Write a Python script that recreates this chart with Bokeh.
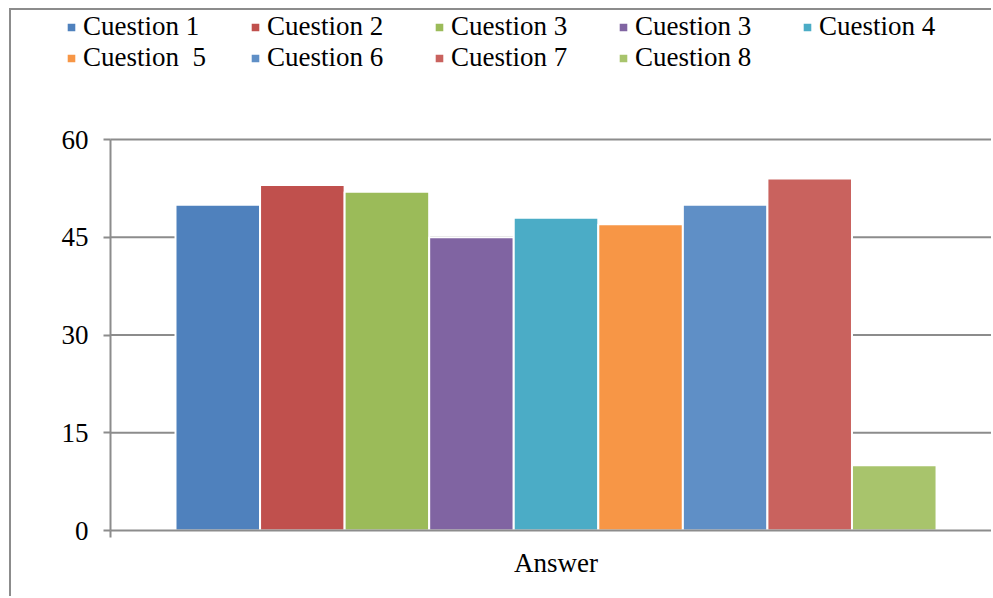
from bokeh.plotting import figure
from bokeh.models import (ColumnDataSource, Range1d, FixedTicker, Legend, LegendItem)
from bokeh.embed import file_html
from bokeh.resources import INLINE

# ---- data ----
labels = ["Cuestion 1", "Cuestion 2", "Cuestion 3", "Cuestion 3", "Cuestion 4",
          "Cuestion \u00a05", "Cuestion 6", "Cuestion 7", "Cuestion 8"]
values = [50, 53, 52, 45, 48, 47, 50, 54, 10]
colors = ["#4F81BD", "#C0504D", "#9BBB59", "#8064A2", "#4BACC6",
          "#F79646", "#5F8FC6", "#C9625E", "#A8C46C"]
category = "Answer"
y_ticks = [0, 15, 30, 45, 60]

n = len(values)
xs = [i - (n - 1) / 2 for i in range(n)]
src = ColumnDataSource(dict(x=xs, top=values, color=colors, label=labels))

FONT = "Liberation Serif"
GRAY = "#8c8c8c"

W, H = 982, 588
PX_X = 84.56            # pixels per bar slot
PX_Y = 391 / 60         # pixels per value unit
x_start = -4.5 - 164 / PX_X
x_end = x_start + W / PX_X
x_axis_at = x_start + 99 / PX_X
y_start = -(H - 520) / PX_Y
y_end = 60 + 129 / PX_Y

p = figure(width=W, height=H, output_backend="svg", toolbar_location=None,
           x_range=Range1d(x_start, x_end), y_range=Range1d(y_start, y_end),
           min_border=0)
p.margin = (8, 0, 0, 9)
p.styles = {"border-top": f"2px solid {GRAY}", "border-left": f"2px solid {GRAY}"}
p.outline_line_color = None
p.background_fill_color = "white"
p.border_fill_color = "white"
p.xgrid.visible = False
p.ygrid.visible = False

# gridlines
gsrc = ColumnDataSource(dict(y=y_ticks[1:]))
p.segment(x0=x_axis_at, x1=x_end, y0="y", y1="y", line_color=GRAY, line_width=2,
          source=gsrc, level="underlay")

r = p.vbar(x="x", top="top", bottom=0, width=1.0, fill_color="color",
           line_color="white", line_width=2, source=src)

# y axis
p.yaxis.fixed_location = x_axis_at
p.yaxis.bounds = (0, 60)
p.yaxis.ticker = FixedTicker(ticks=y_ticks, minor_ticks=[])
p.yaxis.axis_line_color = GRAY
p.yaxis.axis_line_width = 2
p.yaxis.major_tick_line_color = GRAY
p.yaxis.major_tick_line_width = 2
p.yaxis.major_tick_out = 7
p.yaxis.major_tick_in = 0
p.yaxis.major_label_standoff = 15
p.yaxis.major_label_text_font = FONT
p.yaxis.major_label_text_font_size = "27px"
p.yaxis.major_label_text_color = "black"

# x axis
p.xaxis.fixed_location = 0
p.xaxis.bounds = (x_axis_at, x_end)
p.xaxis.ticker = FixedTicker(ticks=[0], minor_ticks=[x_axis_at])
p.xaxis.major_label_overrides = {0: category}
p.xaxis.axis_line_color = GRAY
p.xaxis.axis_line_width = 2
p.xaxis.major_tick_line_color = None
p.xaxis.major_tick_out = 0
p.xaxis.major_tick_in = 0
p.xaxis.minor_tick_line_color = GRAY
p.xaxis.minor_tick_line_width = 2
p.xaxis.minor_tick_out = 7
p.xaxis.minor_tick_in = 0
p.xaxis.major_label_standoff = 10
p.xaxis.major_label_text_font = FONT
p.xaxis.major_label_text_font_size = "27px"
p.xaxis.major_label_text_color = "black"

items = [LegendItem(label=labels[i], renderers=[r], index=i) for i in range(n)]
legend = Legend(items=items, ncols=5, orientation="horizontal",
                location=(54, 525), padding=0, margin=0, spacing=0,
                glyph_width=12, glyph_height=12, label_standoff=6, label_width=166,
                label_text_font="'Liberation Serif'", label_text_font_size="27px",
                label_text_color="black",
                border_line_color=None, background_fill_alpha=0)
p.add_layout(legend, "center")

open("out.html", "w").write(file_html(p, INLINE))
